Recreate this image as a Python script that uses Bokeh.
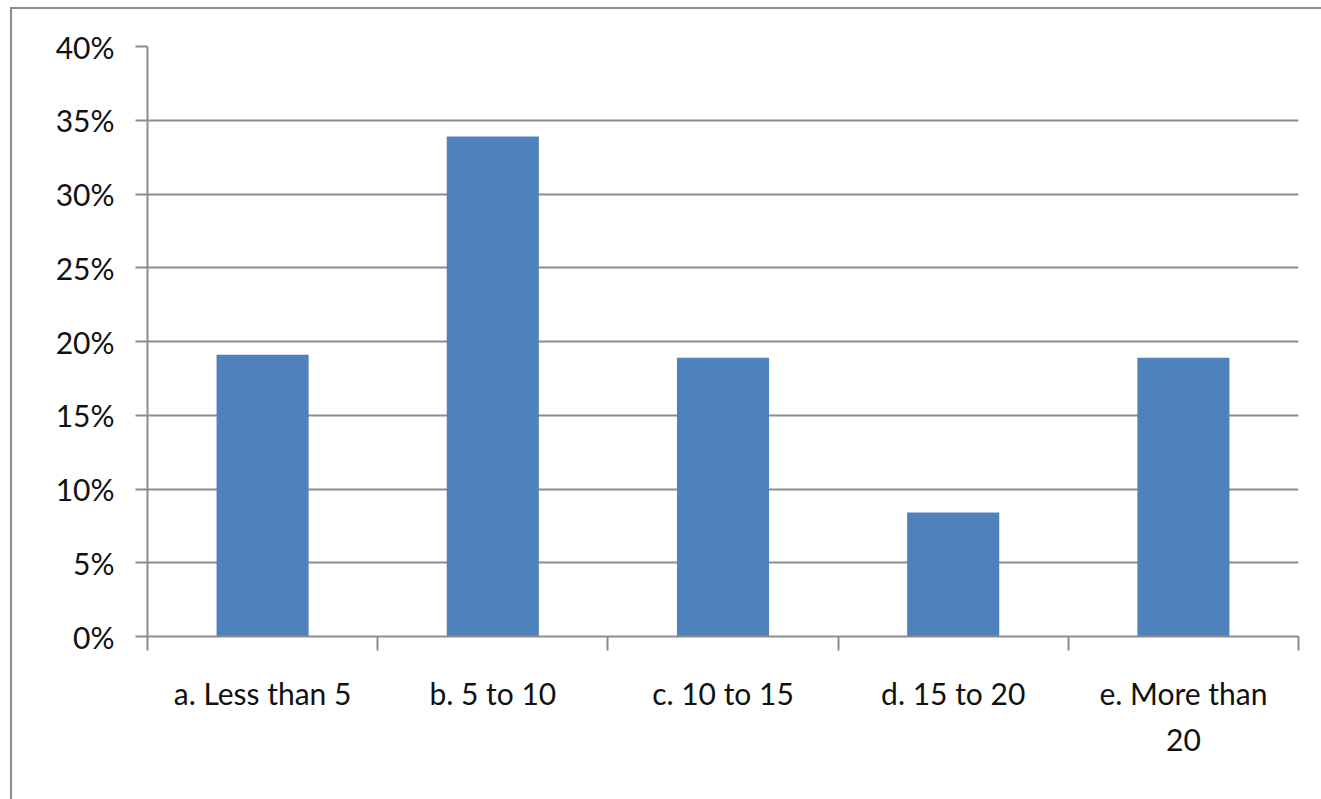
from bokeh.plotting import figure
from bokeh.models import ColumnDataSource, FixedTicker, NumeralTickFormatter, Range1d
from bokeh.embed import file_html
from bokeh.resources import INLINE

# Survey answers grouped by range, share of respondents per group
categories = ["a. Less than 5", "b. 5 to 10", "c. 10 to 15", "d. 15 to 20", "e. More than\n20"]
shares = [0.191, 0.339, 0.189, 0.084, 0.189]
y_ticks = [0.0, 0.05, 0.10, 0.15, 0.20, 0.25, 0.30, 0.35, 0.40]

BAR_COLOR = "#4f81bd"
LINE_GRAY = "#8c8c8c"
TEXT_COLOR = "#111111"
FONT = "Lato"

centers = [i + 0.5 for i in range(len(categories))]
edges = list(range(len(categories) + 1))
source = ColumnDataSource(dict(x=centers, top=shares))

p = figure(
    width=1311,
    height=792,
    x_range=Range1d(0, len(categories)),
    y_range=Range1d(0, y_ticks[-1]),
    output_backend="svg",
    toolbar_location=None,
    min_border_left=135,
    min_border_right=25,
    min_border_top=37,
    min_border_bottom=165,
    background_fill_color="white",
    border_fill_color="white",
)
p.margin = (7, 0, 0, 10)
p.styles = {
    "border-left": f"2px solid {LINE_GRAY}",
    "border-top": f"2px solid {LINE_GRAY}",
}
p.outline_line_color = None

p.vbar(x="x", top="top", width=0.4, bottom=0, source=source,
       fill_color=BAR_COLOR, line_color=None)

# horizontal gridlines only
p.xgrid.grid_line_color = None
p.ygrid.ticker = FixedTicker(ticks=y_ticks)
p.ygrid.grid_line_color = LINE_GRAY
p.ygrid.grid_line_width = 2

# y axis: percentage ticks
ya = p.yaxis[0]
ya.ticker = FixedTicker(ticks=y_ticks)
ya.formatter = NumeralTickFormatter(format="0%")
ya.axis_line_color = LINE_GRAY
ya.axis_line_width = 2
ya.major_tick_line_color = LINE_GRAY
ya.major_tick_line_width = 2
ya.major_tick_out = 12
ya.major_tick_in = 0
ya.minor_tick_line_color = None
ya.major_label_standoff = 21
ya.major_label_text_font = FONT
ya.major_label_text_font_size = "30px"
ya.major_label_text_color = TEXT_COLOR

# x axis: labels centred on categories, tick marks on category boundaries
xa = p.xaxis[0]
xa.ticker = FixedTicker(ticks=centers, minor_ticks=edges)
xa.major_label_overrides = {c: lab for c, lab in zip(centers, categories)}
xa.axis_line_color = LINE_GRAY
xa.axis_line_width = 2
xa.major_tick_line_color = None
xa.major_tick_out = 0
xa.major_tick_in = 0
xa.minor_tick_line_color = LINE_GRAY
xa.minor_tick_line_width = 2
xa.minor_tick_out = 14
xa.minor_tick_in = 0
xa.major_label_standoff = 24
xa.major_label_text_font = FONT
xa.major_label_text_font_size = "30px"
xa.major_label_text_color = TEXT_COLOR
xa.major_label_text_line_height = 1.3

open("out.html", "w").write(file_html(p, INLINE))
